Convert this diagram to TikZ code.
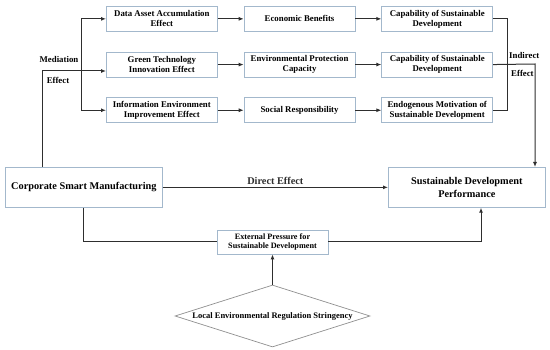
\documentclass[tikz,border=0pt]{standalone}
\usepackage{fontspec}
\setmainfont{Liberation Serif}
\usetikzlibrary{shapes.geometric,arrows.meta,positioning,calc}
\definecolor{boxedge}{HTML}{A3B8CC}
\definecolor{diamedge}{HTML}{8F8F8F}
\definecolor{linegray}{HTML}{2E2E2E}

\begin{document}
\begin{tikzpicture}[x=1pt,y=1pt,
    node distance=20pt and 26pt,
    box/.style={rectangle,draw=boxedge,line width=0.7pt,
                minimum width=111pt,minimum height=25pt,align=center,
                inner sep=1pt,font=\fontsize{8.8}{10}\selectfont\bfseries},
    bigbox/.style={box,minimum width=157pt,minimum height=40pt,
                   font=\fontsize{10.3}{12.5}\selectfont\bfseries},
    arr/.style={-{Latex[length=5pt,width=4pt]},line width=1pt,linegray},
    conn/.style={line width=1pt,linegray},
    lbl/.style={font=\fontsize{8.8}{10}\selectfont\bfseries,inner sep=1pt}
  ]
    \useasboundingbox (0,0) rectangle (550,-350);

    % mediating chains
    \node[box,anchor=north west] (dae) at (106,-6) {Data Asset Accumulation\\Effect};
    \node[box,below=of dae] (gti) {Green Technology\\Innovation Effect};
    \node[box,below=of gti] (iei) {Information Environment\\Improvement Effect};
    \node[box,right=of dae] (eb) {Economic Benefits};
    \node[box,right=of gti] (epc) {Environmental Protection\\Capacity};
    \node[box,right=of iei] (sr) {Social Responsibility};
    \node[box,right=of eb] (csd1) {Capability of Sustainable\\Development};
    \node[box,right=of epc] (csd2) {Capability of Sustainable\\Development};
    \node[box,right=of sr] (emsd) {Endogenous Motivation of\\Sustainable Development};

    \draw[arr] (dae) -- (eb);
    \draw[arr] (gti) -- (epc);
    \draw[arr] (iei) -- (sr);
    \draw[arr] (eb) -- (csd1);
    \draw[arr] (epc) -- (csd2);
    \draw[arr] (sr) -- (emsd);

    % main effect
    \node[bigbox,anchor=north west] (csm) at (5,-167) {Corporate Smart Manufacturing};
    \node[bigbox,anchor=north west] (sdp) at (388,-167) {Sustainable Development\\Performance};
    \draw[arr] (csm) -- (sdp) node[lbl,midway,above=1pt,font=\fontsize{10.3}{12}\selectfont\bfseries] (direct) {Direct Effect};

    % mediation split
    \coordinate (medin) at (42,-71);
    \coordinate (medsplit) at (81,-71);
    \draw[conn] (csm.north -| medin) -- (medin) -- (medsplit);
    \draw[conn] (dae.west -| medsplit) -- (iei.west -| medsplit);
    \draw[arr] (dae.west -| medsplit) -- (dae.west);
    \draw[arr] (medsplit) -- (medsplit -| gti.west);
    \draw[arr] (iei.west -| medsplit) -- (iei.west);
    \node[lbl] (medlbl) at (59,-59) {Mediation};
    \node[lbl] (medeff) at (58,-80) {Effect};

    % indirect merge
    \coordinate (indsplit) at (507,-64);
    \coordinate (indout) at (535,-64);
    \draw[conn] (csd1.east) -- (csd1.east -| indsplit) -- (emsd.east -| indsplit) -- (emsd.east);
    \draw[arr] (csd2.east) -- (indout) -- (indout |- sdp.north);
    \node[lbl,anchor=west] (indlbl) at (508,-55) {Indirect};
    \node[lbl,anchor=west] (indeff) at (510,-73) {Effect};

    % moderation path
    \node[box,minimum width=111pt,minimum height=24pt,
          font=\fontsize{8.2}{9.8}\selectfont\bfseries] (ext) at (272.5,-242)
          {External Pressure for\\Sustainable Development};
    \coordinate (csmdown) at (83,-242);
    \coordinate (extup) at (481,-242);
    \draw[conn] (csm.south -| csmdown) -- (csmdown) -- (ext.west);
    \draw[arr] (ext.east) -- (extup) -- (extup |- sdp.south);

    \node[diamond,draw=diamedge,line width=0.7pt,inner sep=0pt,
          minimum width=195pt,minimum height=62pt,
          label={[lbl,font=\fontsize{8.5}{10}\selectfont\bfseries]center:Local Environmental Regulation Stringency}]
          (reg) at (272.5,-316) {};
    \draw[arr] (reg.north) -- (ext.south);
  \end{tikzpicture}
\end{document}
